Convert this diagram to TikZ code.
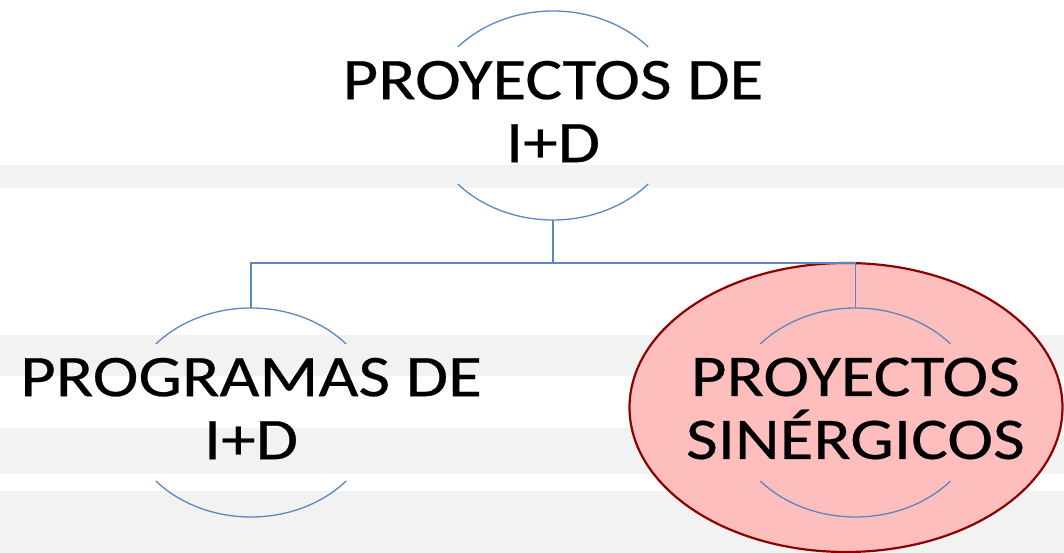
\documentclass[tikz,border=0pt]{standalone}
\usepackage{fontspec}
\setmainfont[FakeStretch=1.17,FakeBold=0.4]{Carlito}
\usetikzlibrary{positioning}
\usetikzlibrary{shapes.geometric}

\definecolor{bandgray}{RGB}{242,242,242}
\definecolor{linkblue}{RGB}{91,135,190}
\definecolor{hlfill}{RGB}{255,190,190}
\definecolor{hldraw}{RGB}{140,0,0}

\tikzset{
  ring/.style={ellipse, minimum width=252pt, minimum height=209pt, inner sep=0pt},
  arcline/.style={draw=linkblue, line width=1.3pt},
  link/.style={draw=linkblue, line width=1.6pt},
  caption/.style={align=center, inner sep=0pt, yshift=4pt, font=\fontsize{59}{63}\selectfont}
}

\newcommand{\ringarcs}[1]{%
  \draw[arcline] ([shift={(41:126 and 104.5)}]#1.center) arc[start angle=41, end angle=139, x radius=126, y radius=104.5];
  \draw[arcline] ([shift={(221:126 and 104.5)}]#1.center) arc[start angle=221, end angle=319, x radius=126, y radius=104.5];}

\begin{document}
\begin{tikzpicture}[x=1pt,y=1pt]
\useasboundingbox (0,0) rectangle (1064,553);
% background bands
\fill[bandgray] (0,365) rectangle (1064,388);
\fill[bandgray] (0,177) rectangle (1064,218);
\fill[bandgray] (0,79) rectangle (1064,125);
\fill[bandgray] (0,0) rectangle (1064,62);
% highlight
\draw[hldraw, fill=hlfill, line width=2.2pt] (846,145.5) ellipse [x radius=216.5, y radius=144.5];
% rings
\node[ring](pid) at (553,437.5){};
\node[ring](prog) at (251,140.5){};
\node[ring, right=352pt of prog](syn){};
\ringarcs{pid}
\ringarcs{prog}
\ringarcs{syn}
% texts
\node[caption](pidtext) at (pid){PROYECTOS DE\\I+D};
\node[caption](progtext) at (prog){PROGRAMAS DE\\I+D};
\node[caption](syntext) at (syn){PROYECTOS\\SINÉRGICOS};
% links
\draw[link] (pid.south) -- ++(0,-43) -| (prog.north);
\draw[link] (pid.south) -- ++(0,-43) -| (syn.north);
\end{tikzpicture}
\end{document}
